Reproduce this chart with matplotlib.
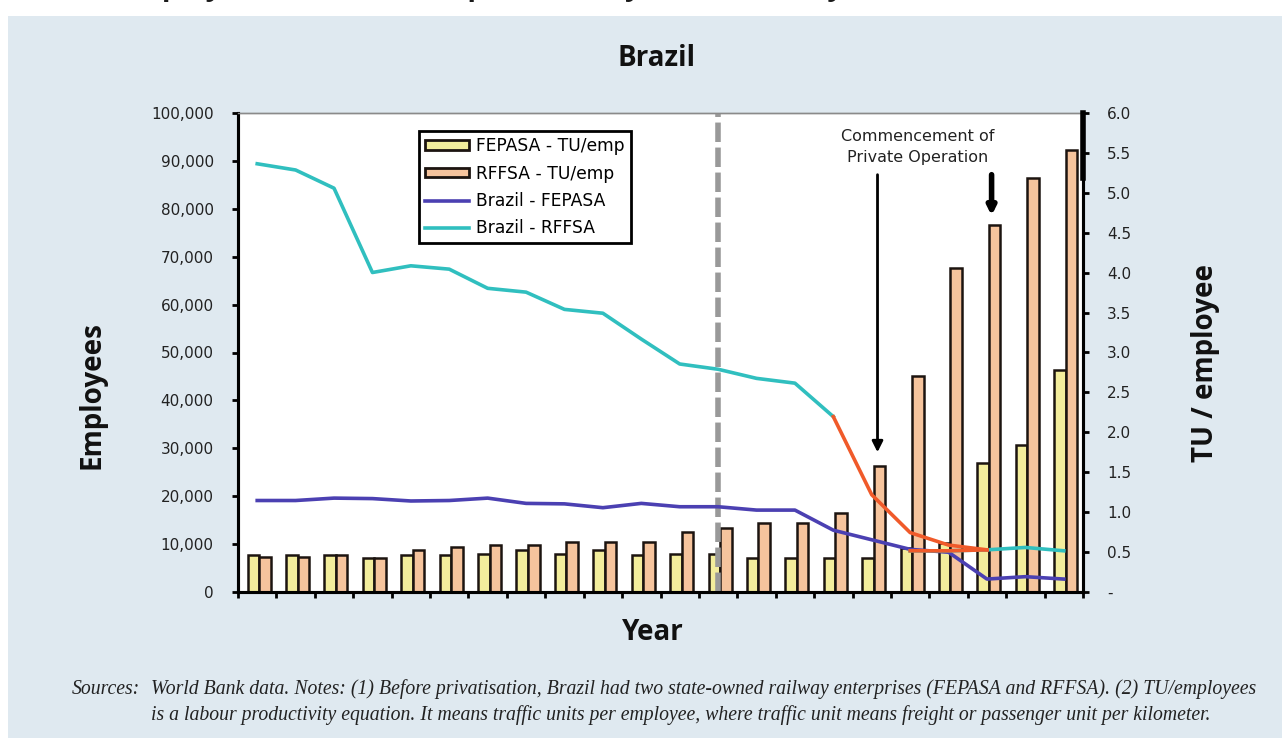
import matplotlib
matplotlib.use('Agg')
import matplotlib.pyplot as plt
import numpy as np
from matplotlib.patches import Rectangle, Patch
from matplotlib.lines import Line2D
from matplotlib.ticker import FuncFormatter, MultipleLocator

# values (22 unlabelled years)
n_years = 22
fepasa_tu = [0.46, 0.46, 0.46, 0.43, 0.46, 0.46, 0.48, 0.53, 0.48, 0.53, 0.46,
             0.48, 0.48, 0.43, 0.43, 0.43, 0.43, 0.55, 0.61, 1.61, 1.84, 2.78]
rffsa_tu = [0.44, 0.44, 0.46, 0.43, 0.53, 0.56, 0.59, 0.59, 0.63, 0.63, 0.63,
            0.75, 0.80, 0.87, 0.87, 0.99, 1.58, 2.71, 4.06, 4.60, 5.19, 5.54]
fepasa_emp = [19100, 19100, 19600, 19500, 19000, 19100, 19600, 18500, 18400, 17600, 18500,
              17800, 17800, 17100, 17100, 12900, 10900, 8900, 8300, 2700, 3200, 2700]
rffsa_emp = [89400, 88100, 84300, 66700, 68100, 67400, 63400, 62600, 59000, 58200, 52800,
             47600, 46500, 44600, 43600, 36600, np.nan, 8600, 8600, 8800, 9300, 8600]
# break-up of RFFSA (drawn in orange)
transition_emp = [np.nan] * 15 + [36600, 20300, 12400, 9800, 8800, np.nan, np.nan]
split_year = 12              # dashed grey marker
arrow_x = [16.15, 19.12]     # "commencement of private operation" arrows

labels = ['FEPASA - TU/emp', 'RFFSA - TU/emp', 'Brazil - FEPASA', 'Brazil - RFFSA']
c_yellow = '#f3ed9c'
c_peach = '#f6c49d'
c_blue = '#4b40b2'
c_cyan = '#30bfbf'
c_red = '#f05a2a'
edge = '#1c1410'
panel = '#dfe9f0'

W, H = 1282, 744
fig = plt.figure(figsize=(W / 100, H / 100), dpi=100)
fig.patch.set_facecolor('white')
fig.patches.append(Rectangle((8 / W, 6 / H), 1, (738 - 16) / H, transform=fig.transFigure,
                             facecolor=panel, edgecolor='none', zorder=-10))

# heading of the page, cut off by the top edge in the original
fig.text(118 / W, 1 + 5 / H, 'Employment and labour productivity in the railway sector',
         fontsize=20.5, fontweight='bold', family='Open Sans', color='#1a1a1a',
         ha='left', va='baseline')

left, right, bottom, top = 238 / W, 1083 / W, 1 - 592 / H, 1 - 113 / H
ax = fig.add_axes([left, bottom, right - left, top - bottom])
ax2 = ax.twinx()
ax.set_zorder(ax2.get_zorder() + 1)
ax.patch.set_visible(False)
ax2.patch.set_facecolor('white')
ax2.patch.set_visible(True)

x = np.arange(n_years)
w = 0.3
ax2.bar(x - w / 2 + 0.05, fepasa_tu, w, color=c_yellow, edgecolor=edge, linewidth=1.8)
ax2.bar(x + w / 2 + 0.05, rffsa_tu, w, color=c_peach, edgecolor=edge, linewidth=1.8)

ax.plot(x, fepasa_emp, color=c_blue, lw=2.6, solid_joinstyle='round')
ax.plot(x, rffsa_emp, color=c_cyan, lw=2.6, solid_joinstyle='round')
ax.plot(x, transition_emp, color=c_red, lw=2.6, solid_joinstyle='round')
ax.plot(x[17:20], rffsa_emp[17:20], color=c_red, lw=2.6)

ax.axvline(split_year, color='#999999', lw=4, dashes=(3.5, 1.0), zorder=1)

ax.set_xlim(-0.5, n_years - 0.5)
ax.set_ylim(0, 100000)
ax2.set_ylim(0, 6)
ax.set_xticks(np.arange(n_years + 1) - 0.5)
ax.set_xticklabels([])
ax.yaxis.set_major_locator(MultipleLocator(10000))
ax.yaxis.set_major_formatter(FuncFormatter(lambda v, p: f'{int(v):,}'))
ax2.yaxis.set_major_locator(MultipleLocator(0.5))
ax2.yaxis.set_major_formatter(FuncFormatter(lambda v, p: '-' if v == 0 else f'{v:.1f}'))

for a in (ax, ax2):
    a.tick_params(axis='both', direction='out', length=4.5, width=2, color='black',
                  labelsize=11, labelcolor='#222222')
    for s in ('left', 'right', 'bottom'):
        a.spines[s].set_linewidth(2.2)
        a.spines[s].set_color('black')
    a.spines['top'].set_color('#8a8a8a')
    a.spines['top'].set_linewidth(1)
ax.tick_params(axis='y', pad=13)
ax2.tick_params(axis='y', pad=13)
for t in ax.get_yticklabels() + ax2.get_yticklabels():
    t.set_family('DejaVu Sans')

lab = dict(fontsize=20, fontweight='bold', family='Open Sans', color='#111111',
           ha='center', va='center')
fig.text(92 / W, 1 - 395 / H, 'Employees', rotation=90, **lab)
fig.text(1205 / W, 1 - 363 / H, 'TU / employee', rotation=90, **lab)
fig.text(653 / W, 1 - 633 / H, 'Year', **lab)
fig.text(657 / W, 1 - 58 / H, 'Brazil', **lab)

# legend
handles = [Patch(facecolor=c_yellow, edgecolor=edge, linewidth=2),
           Patch(facecolor=c_peach, edgecolor=edge, linewidth=2),
           Line2D([], [], color=c_blue, lw=2.6),
           Line2D([], [], color=c_cyan, lw=2.6)]
leg = ax.legend(handles, labels, loc='upper left', bbox_to_anchor=(0.214, 0.962),
                fancybox=False, framealpha=1, edgecolor='black',
                handlelength=2.6, handleheight=0.5, labelspacing=0.55,
                borderpad=0.35, handletextpad=0.4, borderaxespad=0,
                prop={'family': 'DejaVu Sans', 'size': 12.3})
leg.get_frame().set_linewidth(2)

# annotation
ax.text(17.19, 92800, 'Commencement of\nPrivate Operation', fontsize=11.5, ha='center',
        va='center', linespacing=1.5, family='DejaVu Sans', color='#222222')
ax.annotate('', xy=(arrow_x[0], 28600), xytext=(arrow_x[0], 87700),
            arrowprops=dict(arrowstyle='-|>', color='black', lw=2, mutation_scale=16))
ax.annotate('', xy=(arrow_x[1], 78000), xytext=(arrow_x[1], 87700),
            arrowprops=dict(arrowstyle='-|>', color='black', lw=4, mutation_scale=12))
ax.plot([1, 1], [1, 0.864], transform=ax.transAxes, color='black', lw=4,
        clip_on=False, zorder=5)

# source note
note = dict(fontsize=14.2, style='italic', family='Liberation Serif', va='center',
            color='#222222')
fig.text(72 / W, 1 - 689 / H, 'Sources:', **note)
fig.text(151 / W, 1 - 689 / H,
         'World Bank data. Notes: (1) Before privatisation, Brazil had two state-owned railway '
         'enterprises (FEPASA and RFFSA). (2) TU/employees', **note)
fig.text(151 / W, 1 - 715 / H,
         'is a labour productivity equation. It means traffic units per employee, where traffic '
         'unit means freight or passenger unit per kilometer.', **note)

fig.savefig('out.png', dpi=100)
